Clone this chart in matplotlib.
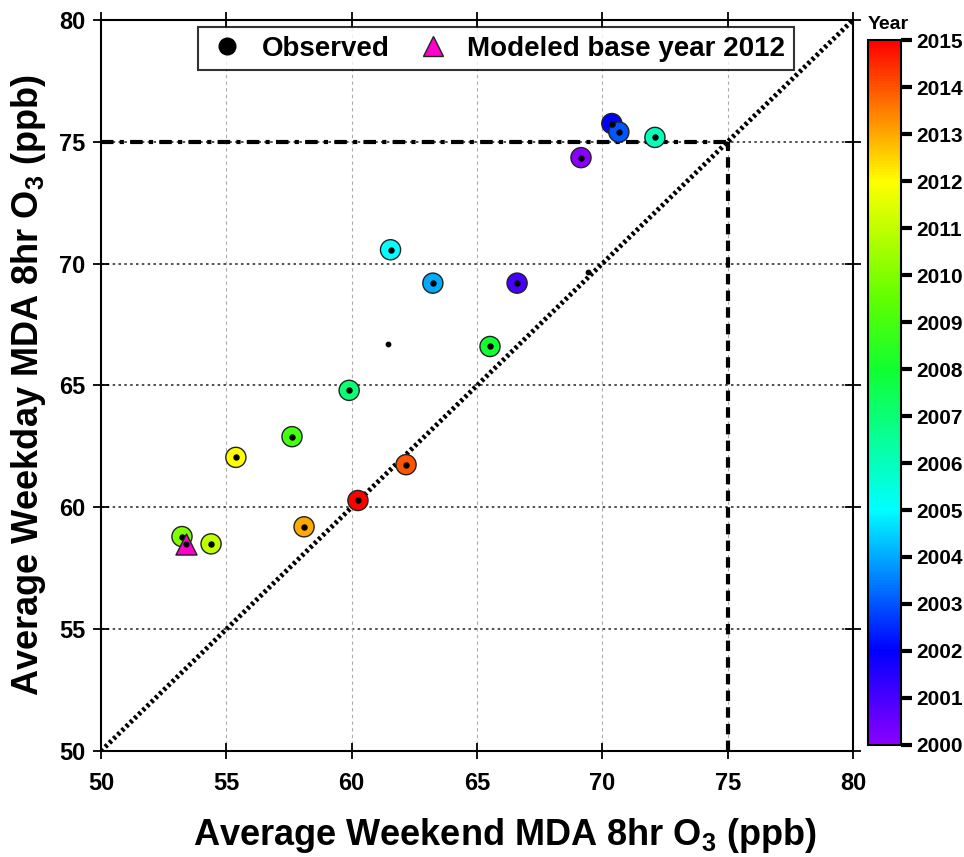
import matplotlib
matplotlib.use("Agg")
import matplotlib.pyplot as plt
from matplotlib.colors import LinearSegmentedColormap, Normalize
from matplotlib.lines import Line2D

plt.rcParams['font.family'] = ['Liberation Sans', 'DejaVu Sans']
plt.rcParams['font.weight'] = 'bold'
plt.rcParams['mathtext.default'] = 'regular'

# observed weekend / weekday averages, one per year
years = [2000, 2001, 2002, 2003, 2004, 2005, 2006, 2007,
         2008, 2009, 2010, 2011, 2012, 2013, 2014, 2015]
weekend = [69.15, 66.6, 70.38, 70.66, 63.24, 61.55, 72.1, 59.9,
           65.52, 57.62, 53.23, 54.39, 55.38, 58.1, 62.17, 60.25]
weekday = [74.35, 69.2, 75.75, 75.4, 69.2, 70.57, 75.18, 64.8,
           66.6, 62.9, 58.8, 58.5, 62.05, 59.2, 61.75, 60.28]

# extra observed points drawn without a colour
extra_weekend = [61.45, 69.43]
extra_weekday = [66.72, 69.65]

# modeled base year 2012
model_weekend = [53.4]
model_weekday = [58.5]

standard = 75

# year colour scale: violet -> blue -> cyan -> green -> yellow -> red
cmap = LinearSegmentedColormap.from_list('year', [
    (0.0, '#8a00ff'),
    (2 / 15, '#0000ff'),
    (5 / 15, '#00ffff'),
    (8 / 15, '#10ff30'),
    (9.5 / 15, '#60ff00'),
    (12 / 15, '#ffff00'),
    (1.0, '#ff0000'),
])
norm = Normalize(vmin=2000, vmax=2015)

fig = plt.figure(figsize=(9.64, 8.57), dpi=100)
ax = fig.add_axes([0.1048, 0.1237, 0.780, 0.853])
cax = fig.add_axes([0.9004, 0.1307, 0.034, 0.8226])

# grid lines
for v in [55, 60, 65, 70, 75]:
    ax.axvline(v, color='#aaaaaa', linestyle=(0, (3, 3)), linewidth=0.8, zorder=0)
    ax.axhline(v, color='#333333', linestyle=(0, (1.5, 2)), linewidth=1.2, zorder=0)

# 1:1 line and standard lines
ax.plot([50, 80], [50, 80], color='black', linestyle=(0, (0.6, 0.6)), linewidth=3.5, zorder=1)
ax.plot([50, standard], [standard, standard], color='black',
        linestyle=(0, (3, 1.5, 1, 1.5)), linewidth=3, zorder=1)
ax.plot([standard, standard], [50, standard], color='black',
        linestyle=(0, (2.5, 1.5)), linewidth=3, zorder=1)

ax.scatter(weekend, weekday, c=years, cmap=cmap, norm=norm, s=210,
           edgecolors='#222222', linewidths=1.0, zorder=3)
ax.scatter(weekend, weekday, color='black', s=13, zorder=4)
ax.scatter(extra_weekend, extra_weekday, color='black', s=10, zorder=4)
ax.scatter(model_weekend, model_weekday, marker='^', color='#ff00cc',
           edgecolors='#222222', linewidths=1.0, s=230, zorder=5)
ax.scatter(model_weekend, model_weekday, color='black', s=12, zorder=6)

ax.set_xlim(50, 80)
ax.set_ylim(50, 80)
ax.set_xticks(range(50, 81, 5))
ax.set_yticks(range(50, 81, 5))
ax.tick_params(axis='both', direction='inout', length=12, width=1.3,
               labelsize=17, top=True, right=True)
ax.tick_params(axis='x', pad=9)
ax.tick_params(axis='y', pad=5)
for lab in ax.get_xticklabels() + ax.get_yticklabels():
    lab.set_fontweight('bold')
for sp in ax.spines.values():
    sp.set_linewidth(1.5)

ax.set_xlabel('Average Weekend MDA 8hr O$_3$ (ppb)', fontsize=26, fontweight='bold')
ax.xaxis.set_label_coords(0.537, -0.089, transform=ax.transAxes)
ax.xaxis.label.set_verticalalignment('top')
ax.set_ylabel('Average Weekday MDA 8hr O$_3$ (ppb)', fontsize=26,
              fontweight='bold', labelpad=8)

handles = [
    Line2D([], [], marker='o', color='black', linestyle='none', markersize=12),
    Line2D([], [], marker='^', color='#ff00cc', markeredgecolor='#222222',
           linestyle='none', markersize=15),
]
leg = ax.legend(handles, ['Observed', 'Modeled base year 2012'], loc='upper center',
                bbox_to_anchor=(0.525, 0.99), ncol=2, frameon=True,
                fancybox=False, edgecolor='black', handletextpad=0.5, handlelength=1.5,
                columnspacing=0.8, borderpad=0.3, borderaxespad=0,
                prop={'weight': 'bold', 'size': 20})
leg.get_frame().set_linewidth(1.5)

sm = plt.cm.ScalarMappable(cmap=cmap, norm=norm)
cb = fig.colorbar(sm, cax=cax, ticks=range(2000, 2016))
cb.outline.set_linewidth(1.5)
cax.tick_params(length=8, width=3, labelsize=15, pad=3)
for lab in cax.get_yticklabels():
    lab.set_fontweight('bold')
cax.set_title('Year', fontsize=14, fontweight='bold', loc='left', pad=8)

fig.savefig('out.png', dpi=100)
